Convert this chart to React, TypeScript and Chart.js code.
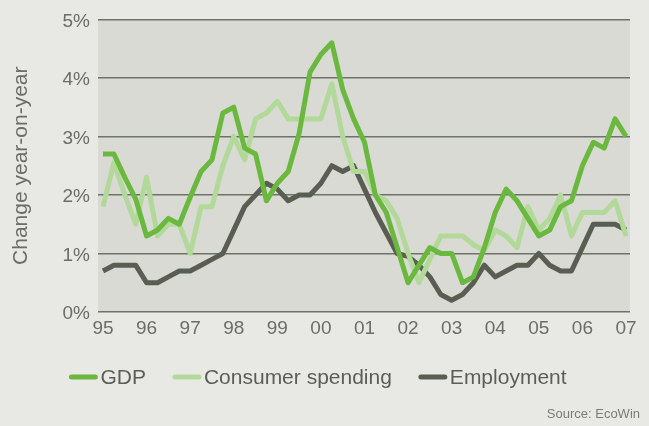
import React, { useEffect, useRef } from "react";
import { Chart, registerables } from "chart.js";

Chart.register(...registerables);

// Year tick labels (one every 4 quarters, 1995Q1 .. 2007Q1)
const years = ["95", "96", "97", "98", "99", "00", "01", "02", "03", "04", "05", "06", "07"];
const quarters = Array.from({ length: 49 }, (_, i) => `${years[Math.floor(i / 4)]}Q${(i % 4) + 1}`);

// Change year-on-year, %
const gdp = [
  2.7, 2.7, 2.3, 1.93, 1.3, 1.4, 1.6, 1.5, 1.96, 2.4,
  2.6, 3.4, 3.5, 2.8, 2.7, 1.9, 2.2, 2.4, 3.05, 4.1,
  4.4, 4.6, 3.8, 3.3, 2.9, 2.0, 1.7, 1.1, 0.5, 0.8,
  1.1, 1.0, 1.0, 0.5, 0.6, 1.1, 1.7, 2.1, 1.9, 1.6,
  1.3, 1.4, 1.8, 1.9, 2.5, 2.9, 2.8, 3.3, 3.0,
];
const consumerSpending = [
  1.8, 2.55, 2.0, 1.5, 2.3, 1.3, 1.5, 1.5, 1.0, 1.8,
  1.8, 2.5, 3.0, 2.6, 3.3, 3.4, 3.6, 3.3, 3.3, 3.3,
  3.3, 3.9, 3.0, 2.4, 2.4, 2.0, 1.9, 1.6, 1.0, 0.5,
  0.9, 1.3, 1.3, 1.3, 1.15, 1.05, 1.4, 1.3, 1.1, 1.8,
  1.4, 1.6, 2.0, 1.3, 1.7, 1.7, 1.7, 1.9, 1.3,
];
const employment = [
  0.7, 0.8, 0.8, 0.8, 0.5, 0.5, 0.6, 0.7, 0.7, 0.8,
  0.9, 1.0, 1.4, 1.8, 2.0, 2.2, 2.1, 1.9, 2.0, 2.0,
  2.2, 2.5, 2.4, 2.5, 2.1, 1.7, 1.35, 1.0, 0.95, 0.8,
  0.6, 0.3, 0.2, 0.3, 0.5, 0.8, 0.6, 0.7, 0.8, 0.8,
  1.0, 0.8, 0.7, 0.7, 1.1, 1.5, 1.5, 1.5, 1.4,
];
const yTicks = [0, 1, 2, 3, 4, 5];

const seriesNames = ["GDP", "Consumer spending", "Employment"];
const seriesColors = ["#6ab83e", "#b2d99a", "#5a5e52"];
const seriesValues = [gdp, consumerSpending, employment];

const FONT = '"Liberation Sans", Arial, sans-serif';
const PAGE_BG = "#e8e9e4";
const PLOT_BG = "#d8dad3";

const backgroundPlugin = {
  id: "bgPlugin",
  beforeDraw(chart: any) {
    const { ctx, chartArea } = chart;
    ctx.save();
    ctx.fillStyle = PAGE_BG;
    ctx.fillRect(0, 0, chart.width, chart.height);
    ctx.fillStyle = PLOT_BG;
    ctx.fillRect(chartArea.left, chartArea.top, chartArea.right - chartArea.left, chartArea.bottom - chartArea.top);
    ctx.restore();
  },
};

const legendPlugin = {
  id: "customLegend",
  afterDraw(chart: any) {
    const { ctx } = chart;
    ctx.save();
    ctx.font = `21px ${FONT}`;
    ctx.textBaseline = "middle";
    const sample = 28;
    const gap = 3;
    const spacing = 27;
    const widths = seriesNames.map((n) => ctx.measureText(n).width);
    const total = widths.reduce((a, w) => a + sample + gap + w, 0) + spacing * (seriesNames.length - 1);
    let x = 318 - total / 2;
    const y = 377;
    seriesNames.forEach((name, i) => {
      ctx.strokeStyle = seriesColors[i];
      ctx.lineWidth = 5;
      ctx.lineCap = "round";
      ctx.beginPath();
      ctx.moveTo(x + 2, y);
      ctx.lineTo(x + sample - 2, y);
      ctx.stroke();
      ctx.fillStyle = "#5b5e57";
      ctx.fillText(name, x + sample + gap, y + 1);
      x += sample + gap + widths[i] + spacing;
    });
    ctx.font = `13px ${FONT}`;
    ctx.textAlign = "right";
    ctx.fillStyle = "#7a7c76";
    ctx.fillText("Source: EcoWin", 640, 414);
    ctx.restore();
  },
};

export default function App() {
  const ref = useRef<HTMLCanvasElement | null>(null);

  useEffect(() => {
    if (!ref.current) return;
    const chart = new Chart(ref.current, {
      type: "line",
      data: {
        labels: quarters,
        datasets: seriesNames.map((name, s) => ({
          label: name,
          data: seriesValues[s].map((v, i) => ({ x: i, y: v })),
          borderColor: seriesColors[s],
          backgroundColor: seriesColors[s],
          borderWidth: 5,
          pointRadius: 0,
          tension: 0,
          borderJoinStyle: "round" as const,
          fill: false,
        })),
      },
      options: {
        animation: false,
        responsive: false,
        events: [],
        layout: { padding: { left: 0, top: 13, right: 19, bottom: 0 } },
        plugins: {
          legend: { display: false },
          tooltip: { enabled: false },
        },
        scales: {
          x: {
            type: "linear",
            min: -0.46,
            max: 48.37,
            afterBuildTicks: (scale: any) => {
              scale.ticks = years.map((_, k) => ({ value: k * 4 }));
            },
            afterFit: (scale: any) => {
              scale.height = 114;
            },
            grid: { display: false, drawTicks: false },
            border: { display: false },
            ticks: {
              autoSkip: false,
              maxRotation: 0,
              padding: 5,
              color: "#6b6d67",
              font: { family: FONT, size: 19 },
              callback: (v: any) => years[Math.round(Number(v) / 4)] ?? "",
            },
          },
          y: {
            min: 0,
            max: 5,
            afterBuildTicks: (scale: any) => {
              scale.ticks = yTicks.map((v) => ({ value: v }));
            },
            afterFit: (scale: any) => {
              scale.width = 98;
            },
            grid: { color: "#6f7269", lineWidth: 1.5, drawTicks: false },
            border: { display: false },
            ticks: {
              padding: 8,
              labelOffset: 2,
              color: "#6b6d67",
              font: { family: FONT, size: 19 },
              callback: (v: any) => `${v}%`,
            },
            title: {
              display: true,
              text: "Change year-on-year",
              color: "#6b6d67",
              font: { family: FONT, size: 21 },
              padding: { top: 9, bottom: 0 },
            },
          },
        },
      },
      plugins: [backgroundPlugin, legendPlugin],
    });
    return () => chart.destroy();
  }, []);

  return (
    <div style={{ position: "fixed", left: 0, top: 0, width: 649, height: 426, background: PAGE_BG }}>
      <canvas ref={ref} width={649} height={426} style={{ display: "block" }} />
    </div>
  );
}
